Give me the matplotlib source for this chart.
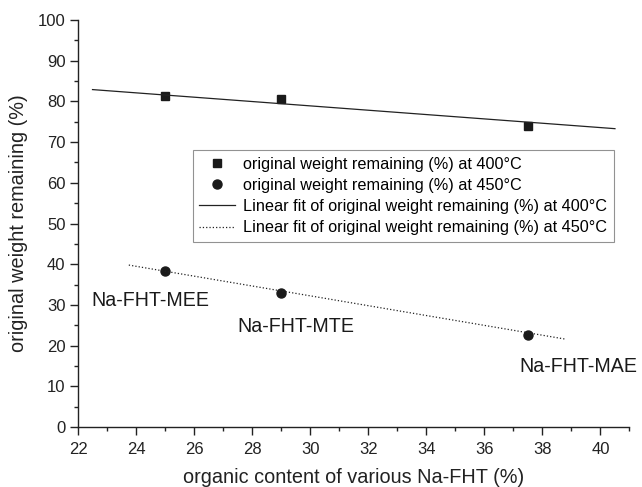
import matplotlib
matplotlib.use("Agg")
import matplotlib.pyplot as plt
from matplotlib.ticker import MultipleLocator

plt.rcParams['font.family'] = ['Liberation Sans', 'DejaVu Sans']

# Data
organic_content = [25.0, 29.0, 37.5]
weight_400 = [81.3, 80.5, 73.9]
weight_450 = [38.3, 32.9, 22.6]
sample_names = ["Na-FHT-MEE", "Na-FHT-MTE", "Na-FHT-MAE"]
label_x = [24.5, 29.5, 39.25]
label_y = [31.0, 24.6, 15.0]

fit400_x = [22.5, 40.5]
fit400_y = [82.9, 73.3]
fit450_x = [23.75, 38.8]
fit450_y = [39.8, 21.6]

legend_labels = [
    "original weight remaining (%) at 400\u00b0C",
    "original weight remaining (%) at 450\u00b0C",
    "Linear fit of original weight remaining (%) at 400\u00b0C",
    "Linear fit of original weight remaining (%) at 450\u00b0C",
]

fig = plt.figure(figsize=(6.42, 4.87), dpi=100)
ax = fig.add_axes([0.1215, 0.123, 0.859, 0.836])

h1, = ax.plot(organic_content, weight_400, linestyle='none', marker='s',
              markersize=5.8, color='#1a1a1a')
h2, = ax.plot(organic_content, weight_450, linestyle='none', marker='o',
              markersize=6.5, color='#1a1a1a')
h3, = ax.plot(fit400_x, fit400_y, '-', color='#222222', linewidth=0.9)
h4, = ax.plot(fit450_x, fit450_y, ':', color='#222222', linewidth=0.9)

for name, lx, ly in zip(sample_names, label_x, label_y):
    ax.text(lx, ly, name, ha='center', va='center', fontsize=14.1, color='#1a1a1a')

ax.set_xlim(22, 41)
ax.set_ylim(0, 100)
ax.set_xticks(list(range(22, 41, 2)))
ax.xaxis.set_minor_locator(MultipleLocator(1))
ax.yaxis.set_major_locator(MultipleLocator(10))
ax.yaxis.set_minor_locator(MultipleLocator(5))

for s in ['top', 'right']:
    ax.spines[s].set_visible(False)
for s in ['left', 'bottom']:
    ax.spines[s].set_linewidth(1.0)
    ax.spines[s].set_color('#222222')

ax.tick_params(axis='both', which='major', direction='out', length=5.5, width=1,
               labelsize=12, colors='#222222')
ax.tick_params(axis='x', which='major', pad=5)
ax.tick_params(axis='both', which='minor', direction='out', length=3, width=1,
               colors='#222222')

ax.set_xlabel("organic content of various Na-FHT (%)", fontsize=14.3, color='#222222',
              labelpad=8)
ax.set_ylabel("original weight remaining (%)", fontsize=14.3, color='#222222',
              labelpad=7)

leg = ax.legend([h1, h2, h3, h4], legend_labels, loc='upper left',
                bbox_to_anchor=(0.208, 0.68), borderaxespad=0, fontsize=11.7,
                frameon=True, fancybox=False, edgecolor='#777777',
                handlelength=2.2, handletextpad=0.5, borderpad=0.4,
                labelspacing=0.38)
leg.get_frame().set_linewidth(0.8)

fig.savefig("out.png", dpi=100)
